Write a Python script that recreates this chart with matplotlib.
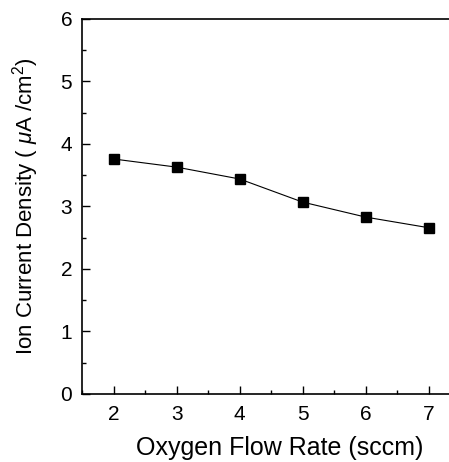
import matplotlib
matplotlib.use("Agg")
import matplotlib.pyplot as plt

plt.rcParams['font.family'] = ['Liberation Sans', 'DejaVu Sans']
plt.rcParams['mathtext.fontset'] = 'custom'
plt.rcParams['mathtext.rm'] = 'Liberation Sans'
plt.rcParams['mathtext.it'] = 'Liberation Sans:italic'

flow = [2, 3, 4, 5, 6, 7]
current = [3.76, 3.63, 3.44, 3.07, 2.83, 2.66]
xticks = [2, 3, 4, 5, 6, 7]
yticks = [0, 1, 2, 3, 4, 5, 6]

fig = plt.figure(figsize=(4.49, 4.62), dpi=100)
ax = fig.add_axes([0.1826, 0.1472, 0.8174, 0.8117])

ax.plot(flow, current, color='black', lw=0.8, marker='s', ms=6.5,
        markerfacecolor='black', markeredgecolor='black')

ax.set_xlim(1.5, 7.32)
ax.set_ylim(0, 6)
ax.set_xticks(xticks)
ax.set_yticks(yticks)
ax.set_xticks([x + 0.5 for x in xticks[:-1]] + [1.5], minor=True)
ax.set_yticks([y + 0.5 for y in yticks[:-1]], minor=True)
ax.tick_params(which='both', direction='in', labelsize=15, width=1.0)
ax.tick_params(which='major', length=6, pad=8)
ax.tick_params(which='minor', length=3)
ax.tick_params(axis='y', pad=7)

ax.spines['right'].set_visible(False)
for s in ['left', 'bottom', 'top']:
    ax.spines[s].set_linewidth(1.2)

ax.set_xlabel('Oxygen Flow Rate (sccm)', fontsize=18)
ax.xaxis.set_label_coords(0.54, -0.112)
ax.set_ylabel(r'Ion Current Density ( $\mu$A /cm$^2$)', fontsize=16)
ax.yaxis.set_label_coords(-0.112, 0.5)

fig.savefig('out.png', dpi=100)
